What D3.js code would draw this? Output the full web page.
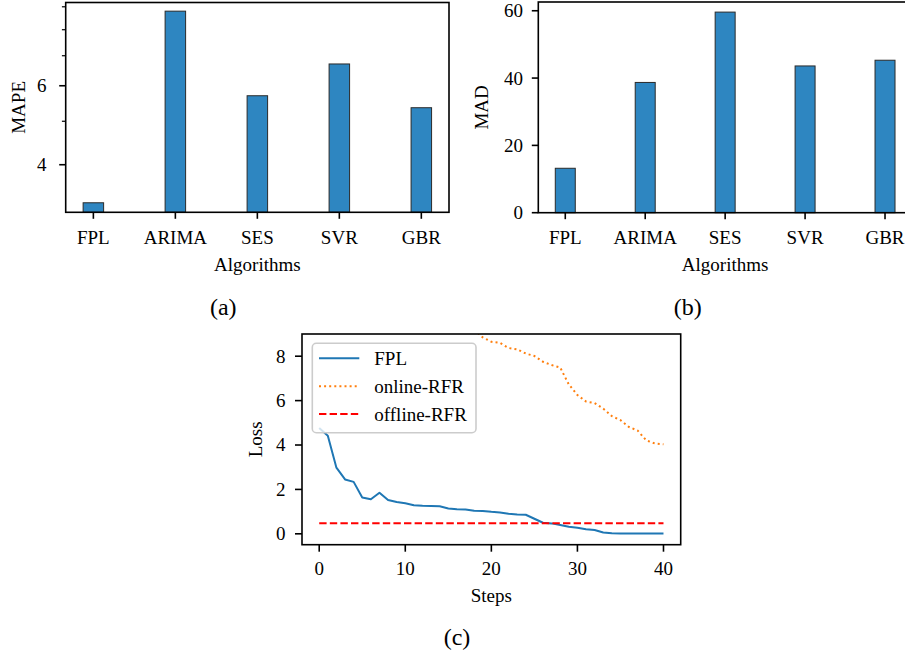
<!DOCTYPE html>
<html><head><meta charset="utf-8">
<script src="https://cdn.jsdelivr.net/npm/d3@7"></script>
<style>
body{margin:0;background:#fff}
svg text{font-family:"Liberation Serif","Times New Roman",serif;fill:#000}
</style>
</head><body>
<svg id="chart" width="905" height="662"></svg>
<script>
// ---------------- data ----------------
const algorithms = ["FPL", "ARIMA", "SES", "SVR", "GBR"];
const mapeValues = [3.29, 8.80, 5.70, 6.71, 5.36];
const madValues  = [13.2, 38.7, 59.6, 43.6, 45.3];
const mapeMajorTicks = [4, 6];
const mapeMinorTicks = [5, 7, 8, 9];
const madTicks = [0, 20, 40, 60];

const steps = [0,1,2,3,4,5,6,7,8,9,10,11,12,13,14,15,16,17,18,19,20,
               21,22,23,24,25,26,27,28,29,30,31,32,33,34,35,36,37,38,39,40];
const fplLoss = [4.77, 4.42, 2.98, 2.45, 2.34, 1.64, 1.56, 1.85, 1.52, 1.43, 1.38,
                 1.29, 1.26, 1.25, 1.24, 1.14, 1.11, 1.10, 1.04, 1.03, 0.99,
                 0.96, 0.90, 0.87, 0.86, 0.68, 0.50, 0.47, 0.40, 0.32, 0.27,
                 0.21, 0.17, 0.06, 0.03, 0.02, 0.015, 0.01, 0.01, 0.01, 0.01];
const onlineRFR = [null, null, null, null, null, null, null, null, null, null, null,
                   null, null, null, null, null, null, null, 9.2, 8.85, 8.65,
                   8.60, 8.37, 8.31, 8.12, 8.01, 7.75, 7.60, 7.49, 6.73, 6.25,
                   5.96, 5.89, 5.64, 5.30, 5.12, 4.81, 4.65, 4.21, 4.07, 4.03];
const offlineRFR = [0.48, 0.48, 0.48, 0.48, 0.48, 0.48, 0.48, 0.48, 0.48, 0.48, 0.48,
                    0.48, 0.48, 0.48, 0.48, 0.48, 0.48, 0.48, 0.48, 0.48, 0.48,
                    0.48, 0.48, 0.48, 0.48, 0.48, 0.48, 0.48, 0.48, 0.48, 0.48,
                    0.48, 0.48, 0.48, 0.48, 0.48, 0.48, 0.48, 0.48, 0.48, 0.48];
const lossTicks = [0, 2, 4, 6, 8];
const stepTicks = [0, 10, 20, 30, 40];
const seriesNames = ["FPL", "online-RFR", "offline-RFR"];
const captions = ["(a)", "(b)", "(c)"];

// ---------------- drawing ----------------
const svg = d3.select("#chart");
const FS = 19;
const BAR_FILL = "#2e86c1";
const SPINE = 1.6;
const TICK = 6.5;

function spines(g, x0, x1, y0, y1) {
  g.append("rect").attr("x", x0).attr("y", y0).attr("width", x1 - x0).attr("height", y1 - y0)
    .attr("fill", "none").attr("stroke", "#000").attr("stroke-width", SPINE);
}

function xCatAxis(g, x, yBottom, labelX, labelY) {
  algorithms.forEach((a, i) => {
    g.append("line").attr("x1", x(i)).attr("x2", x(i)).attr("y1", yBottom).attr("y2", yBottom + TICK)
      .attr("stroke", "#000").attr("stroke-width", SPINE);
    g.append("text").attr("x", x(i)).attr("y", 243.6).attr("text-anchor", "middle")
      .attr("font-size", FS).text(a);
  });
  g.append("text").attr("x", labelX).attr("y", labelY).attr("text-anchor", "middle")
    .attr("font-size", FS).text("Algorithms");
}

// ---- panel (a): MAPE, log scale ----
{
  const g = svg.append("g");
  const L = 65.7, R = 449, T = 2.5, B = 212.3;
  const x = d3.scaleLinear().domain([-0.3375, 4.3375]).range([L, R]);
  const y = d3.scaleLog().domain([3.133, 9.2]).range([B, T]);
  const bw = x(0.25) - x(0);
  g.selectAll("rect.bar").data(mapeValues).enter().append("rect")
    .attr("x", (d, i) => x(i) - bw / 2).attr("width", bw)
    .attr("y", d => y(d)).attr("height", d => B - y(d))
    .attr("fill", BAR_FILL).attr("stroke", "#2a2a2a").attr("stroke-width", 1);
  spines(g, L, R, T, B);
  mapeMajorTicks.forEach(t => {
    g.append("line").attr("x1", L - TICK).attr("x2", L).attr("y1", y(t)).attr("y2", y(t))
      .attr("stroke", "#000").attr("stroke-width", SPINE);
    g.append("text").attr("x", 46.5).attr("y", y(t)).attr("dy", "0.34em").attr("text-anchor", "end")
      .attr("font-size", FS).text(t);
  });
  mapeMinorTicks.forEach(t => {
    g.append("line").attr("x1", L - 3.8).attr("x2", L).attr("y1", y(t)).attr("y2", y(t))
      .attr("stroke", "#000").attr("stroke-width", 1.2);
  });
  xCatAxis(g, x, B, (L + R) / 2, 270.5);
  g.append("text").attr("transform", `translate(24.5,${(T + B) / 2}) rotate(-90)`)
    .attr("text-anchor", "middle").attr("font-size", FS).text("MAPE");
  svg.append("text").attr("x", 223.3).attr("y", 315).attr("text-anchor", "middle")
    .attr("font-size", 24).text(captions[0]);
}

// ---- panel (b): MAD ----
{
  const g = svg.append("g");
  const L = 538.3, R = 912, T = 2, B = 212.7;
  const x = d3.scaleLinear().domain([-0.3375, 4.3375]).range([L, R]);
  const y = d3.scaleLinear().domain([0, 62.6]).range([B, T]);
  const bw = x(0.25) - x(0);
  g.selectAll("rect.bar").data(madValues).enter().append("rect")
    .attr("x", (d, i) => x(i) - bw / 2).attr("width", bw)
    .attr("y", d => y(d)).attr("height", d => B - y(d))
    .attr("fill", BAR_FILL).attr("stroke", "#2a2a2a").attr("stroke-width", 1);
  spines(g, L, R, T, B);
  madTicks.forEach(t => {
    g.append("line").attr("x1", L - TICK).attr("x2", L).attr("y1", y(t)).attr("y2", y(t))
      .attr("stroke", "#000").attr("stroke-width", SPINE);
    g.append("text").attr("x", 523).attr("y", y(t)).attr("dy", "0.34em").attr("text-anchor", "end")
      .attr("font-size", FS).text(t);
  });
  xCatAxis(g, x, B, (L + R) / 2, 270.5);
  g.append("text").attr("transform", `translate(488,${(T + B) / 2}) rotate(-90)`)
    .attr("text-anchor", "middle").attr("font-size", FS).text("MAD");
  svg.append("text").attr("x", 687.7).attr("y", 315).attr("text-anchor", "middle")
    .attr("font-size", 24).text(captions[1]);
}

// ---- panel (c): Loss vs Steps ----
{
  const g = svg.append("g");
  const L = 302, R = 680.7, T = 334, B = 544.7;
  const x = d3.scaleLinear().domain([-2, 42]).range([L, R]);
  const y = d3.scaleLinear().domain([-0.49, 9.0]).range([B, T]);
  svg.append("defs").append("clipPath").attr("id", "clipC")
    .append("rect").attr("x", L).attr("y", T).attr("width", R - L).attr("height", B - T);
  const plot = g.append("g").attr("clip-path", "url(#clipC)");
  const mk = arr => d3.line().defined((d, i) => arr[i] !== null)
    .x((d, i) => x(steps[i])).y((d, i) => y(arr[i]));
  plot.append("path").datum(fplLoss).attr("d", mk(fplLoss)).attr("fill", "none")
    .attr("stroke", "#1f77b4").attr("stroke-width", 2).attr("stroke-linejoin", "round");
  plot.append("path").datum(onlineRFR).attr("d", mk(onlineRFR)).attr("fill", "none")
    .attr("stroke", "#ff7f0e").attr("stroke-width", 2).attr("stroke-dasharray", "2,3.1");
  plot.append("path").datum(offlineRFR).attr("d", mk(offlineRFR)).attr("fill", "none")
    .attr("stroke", "#ff0000").attr("stroke-width", 2).attr("stroke-dasharray", "7.4,3.2");

  // legend
  const lg = g.append("g");
  lg.append("rect").attr("x", 312.3).attr("y", 343.3).attr("width", 163.7).attr("height", 89.4)
    .attr("rx", 4).attr("fill", "#fff").attr("fill-opacity", 0.8)
    .attr("stroke", "#cccccc").attr("stroke-width", 1.6);
  const styles = [
    {c: "#1f77b4", d: null},
    {c: "#ff7f0e", d: "2,3.1"},
    {c: "#ff0000", d: "7.4,3.2"}
  ];
  seriesNames.forEach((n, i) => {
    const yy = 358.3 + i * 27.9;
    const ln = lg.append("line").attr("x1", 319).attr("x2", 359.3).attr("y1", yy).attr("y2", yy)
      .attr("stroke", styles[i].c).attr("stroke-width", 2);
    if (styles[i].d) ln.attr("stroke-dasharray", styles[i].d);
    lg.append("text").attr("x", 374.3).attr("y", yy + 6.6).attr("font-size", FS).text(n);
  });

  spines(g, L, R, T, B);
  lossTicks.forEach(t => {
    g.append("line").attr("x1", L - 7).attr("x2", L).attr("y1", y(t)).attr("y2", y(t))
      .attr("stroke", "#000").attr("stroke-width", SPINE);
    g.append("text").attr("x", 285.5).attr("y", y(t)).attr("dy", "0.34em").attr("text-anchor", "end")
      .attr("font-size", FS).text(t);
  });
  stepTicks.forEach(t => {
    g.append("line").attr("x1", x(t)).attr("x2", x(t)).attr("y1", B).attr("y2", B + 7)
      .attr("stroke", "#000").attr("stroke-width", SPINE);
    g.append("text").attr("x", x(t)).attr("y", 575).attr("text-anchor", "middle")
      .attr("font-size", FS).text(t);
  });
  g.append("text").attr("x", (L + R) / 2).attr("y", 601.5).attr("text-anchor", "middle")
    .attr("font-size", FS).text("Steps");
  g.append("text").attr("transform", `translate(261.5,${(T + B) / 2}) rotate(-90)`)
    .attr("text-anchor", "middle").attr("font-size", FS).text("Loss");
  svg.append("text").attr("x", 457).attr("y", 645).attr("text-anchor", "middle")
    .attr("font-size", 24).text(captions[2]);
}
</script>
</body></html>
